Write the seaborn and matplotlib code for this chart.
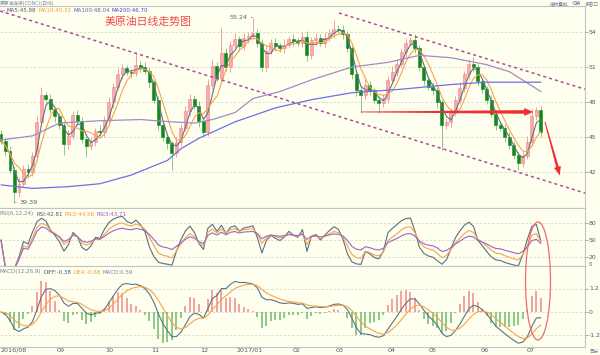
import numpy as np
import pandas as pd
import seaborn as sns
import matplotlib.pyplot as plt
from matplotlib import font_manager
from matplotlib.patches import Ellipse, Polygon

#%% data (two trading days per bar)
closes = [
    44.7, 43.8, 42.2, 40.3, 41.0, 42.3, 42.0, 43.4, 46.3, 48.6,
    48.3, 47.4, 46.8, 46.0, 44.4, 45.1, 46.9, 46.4, 44.8, 44.2,
    44.6, 45.5, 45.4, 46.5, 48.0, 49.3, 50.4, 50.9, 50.6, 50.5,
    51.2, 51.0, 50.7, 49.7, 48.2, 46.0, 45.0, 44.5, 43.6, 44.6,
    45.8, 47.2, 48.3, 47.7, 46.4, 45.4, 49.5, 51.1, 50.1, 52.2,
    51.0, 52.9, 53.4, 52.8, 53.5, 53.7, 53.9, 53.1, 51.0, 52.4,
    53.1, 52.8, 52.6, 52.9, 53.4, 53.2, 53.1, 53.6, 52.0, 53.3,
    53.5, 53.1, 53.5, 53.9, 54.3, 54.2, 53.8, 52.6, 50.4, 49.0,
    48.6, 49.5, 49.0, 48.2, 47.9, 48.3, 49.9, 50.6, 51.3, 52.3,
    53.1, 53.3, 52.6, 51.0, 49.9, 49.3, 49.0, 48.0, 46.0, 46.3,
    47.1, 48.2, 49.2, 50.4, 51.3, 51.0, 49.8, 49.1, 48.2, 47.0,
    46.0, 45.8, 45.0, 44.3, 43.5, 42.8, 43.4, 44.6, 46.8, 47.3,
    45.4]
first_open = 45.3
up_wick = [
    0.3, 0.2, 0.4, 0.3, 0.5, 0.3, 0.4, 0.3, 0.5, 0.7,
    0.3, 0.4, 0.2, 0.3, 0.4, 0.5, 0.3, 0.4, 0.3, 0.2,
    0.4, 0.3, 0.5, 0.3, 0.4, 0.3, 0.5, 0.4, 0.3, 0.2,
    1.0, 0.3, 0.4, 0.3, 0.2, 0.3, 0.4, 0.3, 0.2, 0.4,
    0.3, 0.5, 0.4, 0.3, 0.4, 0.3, 0.5, 0.6, 0.3, 2.2,
    0.4, 0.3, 0.5, 0.3, 0.4, 0.3, 1.34, 0.4, 0.3, 0.5,
    0.3, 0.4, 0.3, 0.5, 0.3, 0.4, 0.3, 0.4, 0.5, 0.3,
    0.4, 0.3, 0.5, 0.4, 0.7, 0.3, 0.4, 0.3, 0.2, 0.3,
    0.4, 0.5, 0.3, 0.2, 0.3, 0.4, 0.3, 0.5, 0.4, 0.3,
    0.4, 0.3, 0.5, 0.3, 0.2, 0.3, 0.4, 0.3, 0.2, 0.3,
    0.4, 0.3, 0.5, 0.3, 0.4, 0.6, 0.3, 0.2, 0.3, 0.4,
    0.3, 0.2, 0.3, 0.4, 0.3, 0.2, 0.3, 0.5, 0.6, 0.3,
    0.4]
dn_wick = [
    0.3, 0.4, 0.3, 0.91, 0.4, 0.3, 0.5, 0.3, 0.4, 0.3,
    0.4, 0.3, 0.5, 0.3, 0.9, 0.4, 0.3, 0.4, 0.3, 0.9,
    0.3, 0.4, 0.3, 0.4, 0.3, 0.5, 0.3, 0.4, 0.3, 0.4,
    0.3, 0.4, 0.3, 0.5, 0.3, 0.4, 0.3, 0.5, 1.4, 0.3,
    0.4, 0.3, 0.4, 0.3, 0.5, 0.4, 0.3, 0.4, 0.3, 0.5,
    0.3, 0.4, 0.3, 0.4, 0.3, 0.4, 0.3, 0.4, 0.3, 0.4,
    0.3, 0.4, 0.3, 0.4, 0.3, 0.4, 0.3, 0.4, 0.5, 0.3,
    0.4, 0.3, 0.4, 0.3, 0.4, 0.3, 0.4, 0.3, 0.4, 0.5,
    1.5, 0.3, 0.4, 0.3, 0.8, 0.3, 0.4, 0.3, 0.4, 0.3,
    0.4, 0.3, 0.4, 0.3, 0.4, 0.3, 0.4, 0.5, 2.1, 0.3,
    0.4, 0.3, 0.4, 0.3, 0.4, 0.3, 0.4, 0.3, 0.4, 0.3,
    0.4, 0.3, 0.4, 0.3, 0.4, 0.6, 0.4, 0.3, 0.4, 0.3,
    0.4]

# long moving averages (read at a few bars)
ma100_bar = [0, 7, 13, 22, 31, 38, 43, 47, 52, 56, 62, 69, 78, 86, 93, 100, 108, 113, 120]
ma100_val = [44.75, 45.1, 46.2, 46.4, 46.5, 46.3, 46.2, 46.5, 47.1, 48.3, 48.9, 49.9,
             51.0, 51.4, 52.0, 51.8, 51.2, 50.6, 48.9]
ma200_bar = [0, 7, 15, 22, 29, 37, 40, 44, 52, 61, 69, 78, 89, 100, 108, 120]
ma200_val = [40.9, 40.6, 40.75, 41.0, 41.75, 43.0, 44.0, 44.9, 46.3, 47.5, 48.2, 48.8,
             49.1, 49.5, 49.7, 49.7]

month_bar = [0, 13.3, 24, 34.4, 45.1, 55.3, 65.8, 75.3, 86.9, 96, 107.6, 117.8]
month_lab = ['2016/08', '09', '10', '11', '12', '2017/01', '02', '03', '04', '05', '06', '07']

arrow_level = 47.15

#%% derived series
close = pd.Series(closes)
opens = pd.Series([first_open] + closes[:-1])
body_hi = np.maximum(opens, close)
body_lo = np.minimum(opens, close)
highs = body_hi + np.array(up_wick)
lows = body_lo - np.array(dn_wick)
bars = np.arange(len(closes))
ma5 = close.rolling(3, min_periods=1).mean()
ma10 = close.rolling(5, min_periods=1).mean()

def sma_cn(s, n):
    return s.ewm(alpha=1 / n, adjust=False).mean()

diff = close.diff().fillna(0)
rsi = {}
for n in (4, 7, 13):
    r = sma_cn(diff.clip(lower=0), n) / sma_cn(diff.abs(), n) * 100
    rsi[n] = r.fillna(50)
dif = close.ewm(span=6, adjust=False).mean() - close.ewm(span=13, adjust=False).mean()
dea = dif.ewm(span=5, adjust=False).mean()
hist = 2 * (dif - dea)

#%% style
bg = '#fffff0'
sns.set_style('white', {'axes.facecolor': bg})
try:
    font_manager.findfont('Liberation Sans Narrow', fallback_to_default=False)
    latin = 'Liberation Sans Narrow'
except ValueError:
    latin = 'DejaVu Sans'
plt.rcParams['font.family'] = [latin, 'Noto Sans CJK SC']
grid_c = '#d9d9cc'
lab_c = '#4f5a70'
spine_c = '#c4c4c4'

W, H = 600, 355
fig = plt.figure(figsize=(6, 3.55), dpi=100, facecolor=bg)

def fy(y):
    return 1 - y / H

def panel(top, bottom):
    return fig.add_axes([0, fy(bottom), 585 / W, (bottom - top) / H])

ax = panel(6, 208)
ax_r = panel(208, 266)
ax_m = panel(266, 347)
xl = (-0.22, 129.8)

#%% main panel: candles
up = close >= opens
wick_c = np.where(up, '#f4a0a0', '#8cc48c')
body_c = np.where(up, '#f7abab', '#13871a')
edge_c = np.where(up, '#f08484', '#13871a')
ax.vlines(bars, lows, highs, colors=wick_c, lw=0.7, zorder=2)
ax.bar(bars, np.maximum(body_hi - body_lo, 0.06), bottom=body_lo, width=0.66,
       color=body_c, edgecolor=edge_c, linewidth=0.4, zorder=3)

sns.lineplot(x=bars, y=ma5, ax=ax, color='#5f7385', lw=0.8, zorder=4)
sns.lineplot(x=bars, y=ma10, ax=ax, color='#f5a54a', lw=0.8, zorder=4)
sns.lineplot(x=ma100_bar, y=ma100_val, ax=ax, color='#a48bc4', lw=0.9, zorder=4)
sns.lineplot(x=ma200_bar, y=ma200_val, ax=ax, color='#6f6fe6', lw=0.9, zorder=4)

ax.set_ylim(38.92, 56.23)
ax.set_yticks([54, 51, 48, 45, 42])
ax.set_yticklabels(['54', '51', '48', '45', '42'])
ax.set_xticks([])

# channel lines
ax.plot([-0.22, 129.8], [55.8, 40.2], ls=(0, (2, 2)), color='#b04a9c', lw=1.1, zorder=5)
ax.plot([75.1, 129.8], [55.63, 49.1], ls=(0, (2, 2)), color='#b04a9c', lw=1.1, zorder=5)

# max / min labels
imax = int(np.argmax(highs))
imin = int(np.argmin(lows))
ax.annotate(f'{highs[imax]:.2f}', xy=(imax, highs[imax]), xytext=(-5, 0),
            textcoords='offset pixels', ha='right', va='center', fontsize=4.6,
            color='#5a6478', arrowprops=dict(arrowstyle='-', color='#8a96a6', lw=0.6,
                                             shrinkA=0, shrinkB=0))
ax.annotate(f'{lows[imin]:.2f}', xy=(imin, lows[imin]), xytext=(5, 0),
            textcoords='offset pixels', ha='left', va='center', fontsize=4.6,
            color='#5a6478', arrowprops=dict(arrowstyle='-', color='#8a96a6', lw=0.6,
                                             shrinkA=0, shrinkB=0))

#%% RSI panel
for n, c in zip((4, 7, 13), ('#5a6e82', '#f5a54a', '#9a66c8')):
    sns.lineplot(x=bars, y=rsi[n], ax=ax_r, color=c, lw=0.8)
ax_r.set_ylim(4.1, 106.5)
ax_r.set_yticks([80, 50, 20])
ax_r.set_yticklabels(['80', '50', '20'])
ax_r.set_xticks([])

#%% MACD panel
ax_m.vlines(bars, 0, hist, colors=np.where(hist >= 0, '#f08888', '#6cba6c'), lw=1.1)
sns.lineplot(x=bars, y=dif, ax=ax_m, color='#5f7385', lw=0.8)
sns.lineplot(x=bars, y=dea, ax=ax_m, color='#f5a54a', lw=0.8)
ax_m.set_ylim(-1.79, 2.35)
ax_m.set_yticks([1.2, 0, -1.2])
ax_m.set_yticklabels(['1.2', '0', '-1.2'])
ax_m.set_xticks(month_bar)
ax_m.set_xticklabels(month_lab)
ax_m.tick_params(axis='x', length=0, labelsize=4.6, labelcolor=lab_c, pad=0.5)
ax_m.get_xticklabels()[0].set_ha('left')

for a in (ax, ax_r, ax_m):
    a.set_xlim(*xl)
    a.set_facecolor(bg)
    a.spines['left'].set_visible(False)
    for s in ('top', 'right', 'bottom'):
        a.spines[s].set_color(spine_c)
        a.spines[s].set_linewidth(0.8)
    a.yaxis.tick_right()
    a.tick_params(axis='y', right=True, left=False, labelright=True, labelleft=False,
                  length=2, width=0.6, color='#9aa0aa', labelsize=4.4,
                  labelcolor=lab_c, pad=0.8)
    a.grid(axis='y', ls=(0, (3, 2)), color=grid_c, lw=0.6)
    a.grid(axis='x', visible=False)
    a.set_xlabel('')
    a.set_ylabel('')
    a.xaxis.label.set_visible(False)
    a.yaxis.label.set_visible(False)

#%% header texts, placed one after another
renderer = fig.canvas.get_renderer()

def seq_text(x, y, parts, size=4.0, gap=2):
    for s, c in parts:
        t = fig.text(x / W, fy(y), s, color=c, fontsize=size, va='center', ha='left')
        x = t.get_window_extent(renderer=renderer).x1 + gap

seq_text(0, 2.8, [('美原油连续(CONC)(日线)', '#7a8aa6')], 3.4)
seq_text(0, 10.5, [('<', '#7a8aa6'), ('MA5:45.98', '#4a5878'), ('MA10:45.32', '#f09a30'),
                   ('MA100:48.04', '#6a5aa8'), ('MA200:46.70', '#4848e0')])
seq_text(0, 214, [('RSI(6,12,24)', '#7a8498'), ('RSI:42.81', '#4a5878'),
                  ('RSI2:44.56', '#f09a30'), ('RSI3:43.71', '#9a58c8')])
seq_text(0, 272, [('MACD(12,26,9)', '#7a8498'), ('DIFF:-0.38', '#4a5878'),
                  ('DEA:-0.68', '#f09a30'), ('MACD:0.59', '#7a8498')])

for s, xr in [('指标叠加', 568), ('切换', 581), ('多窗口', 599)]:
    fig.text(xr / W, fy(3.5), s, color='#6a7aa0', fontsize=3.3, ha='right', va='center')
fig.text(599 / W, fy(351), '百分', color='#6a7aa0', fontsize=3.3, ha='right', va='center')
fig.text(589 / W, fy(264.5), '0', color=lab_c, fontsize=3.8, ha='left', va='center')

fig.text(148 / W, fy(21.5), '美原油日线走势图', color='#f04848', fontsize=7.8,
         ha='center', va='center')

#%% red arrows and ellipse
def taper_arrow(a, p_from, p_to, w0, w1, head_w, head_l, color):
    p0 = a.transData.transform(p_from)
    p1 = a.transData.transform(p_to)
    d = p1 - p0
    u = d / np.hypot(*d)
    nrm = np.array([-u[1], u[0]])
    base = p1 - u * head_l
    pts = [p0 + nrm * w0 / 2, base + nrm * w1 / 2, base + nrm * head_w / 2, p1,
           base - nrm * head_w / 2, base - nrm * w1 / 2, p0 - nrm * w0 / 2]
    fig.add_artist(Polygon(pts, closed=True, transform=None, fc=color, ec='none',
                           zorder=10))

taper_arrow(ax, (80, arrow_level), (118.3, arrow_level), 0.8, 3.6, 8, 9, '#f03030')
taper_arrow(ax, (120.9, 46.3), (124.2, 41.7), 1.0, 2.6, 7, 9, '#f03030')

fig.add_artist(Ellipse((538 / W, fy(281)), 25 / W, 118 / H, transform=fig.transFigure,
                       fill=False, ec='#f06a6a', lw=0.9, zorder=10))

fig.savefig('out.png', dpi=100, facecolor=bg)
